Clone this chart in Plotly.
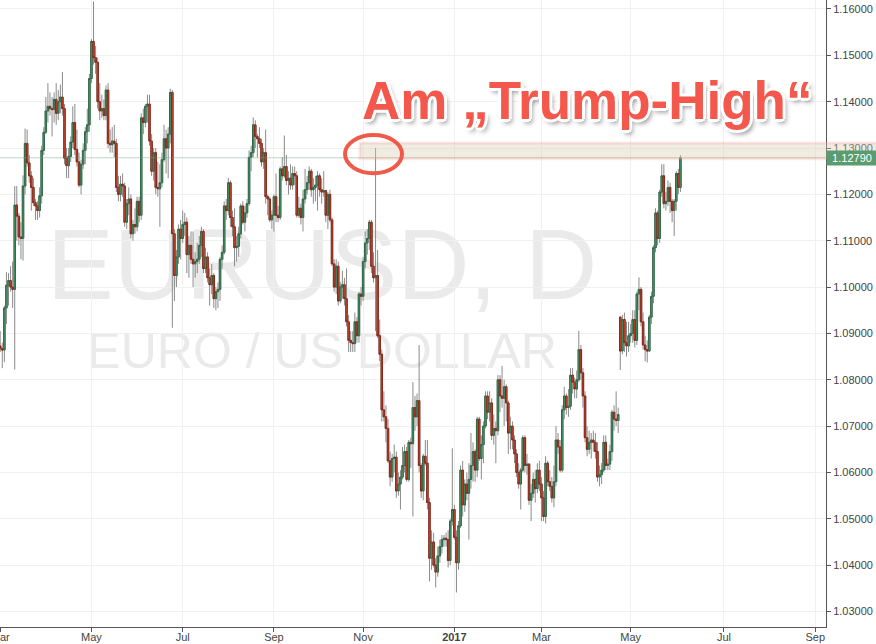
import pandas as pd
import plotly.graph_objects as go

# EURUSD daily candles, values in pips (1 pip = 0.0001); one line = one trading week
open_pips = [
    10873, 10867, 10864, 10955,
    11004, 11014, 11000, 10995, 11177,
    11153, 11108, 11105, 11218, 11310,
    11268, 11240, 11215, 11182, 11175,
    11165, 11197, 11295, 11334, 11380,
    11390, 11385, 11383, 11405, 11375,
    11400, 11410, 11385, 11278, 11262,
    11282, 11313, 11355, 11297, 11270,
    11220, 11265, 11295, 11335, 11350,
    11450, 11530, 11495, 11485, 11400,
    11380, 11385, 11370, 11425, 11310,
    11307, 11315, 11310, 11215, 11200,
    11222, 11218, 11140, 11180, 11190,
    11115, 11135, 11130, 11185, 11155,
    11365, 11355, 11390, 11395, 11315,
    11250, 11290, 11215, 11212, 11225,
    11275, 11320, 11300, 11330, 11420,
    11115, 11025, 11065, 11125, 11105,
    11135, 11140, 11070, 11090, 11060,
    11050, 11055, 11060, 11090, 11120,
    11040, 11065, 11020, 11005, 11025,
    10975, 10990, 10995, 11060, 11075,
    11175, 11165, 11225, 11150, 11130,
    11085, 11088, 11115, 11175, 11140,
    11160, 11180, 11280, 11290, 11350,
    11325, 11320, 11310, 11270, 11290,
    11195, 11190, 11145, 11155, 11195,
    11155, 11150, 11255, 11240, 11260,
    11230, 11235, 11220, 11245, 11240,
    11155, 11170, 11150, 11190, 11210,
    11225, 11250, 11210, 11215, 11220,
    11240, 11210, 11205, 11208, 11155,
    11200, 11145, 11050, 11000, 11045,
    10970, 11000, 11005, 10975, 10925,
    10885, 10880, 10878, 10925, 10895,
    10985, 10980, 11055, 11095, 11105,
    11140, 11045, 11020, 11025, 10895,
    10855, 10735, 10720, 10695, 10625,
    10590, 10630, 10633, 10560, 10575,
    10590, 10615, 10645, 10585, 10665,
    10662, 10740, 10720, 10755, 10615,
    10560, 10635, 10620, 10535, 10415,
    10450, 10400, 10385, 10420, 10440,
    10455, 10458, 10455, 10410, 10495,
    10520, 10460, 10405, 10485, 10605,
    10530, 10575, 10555, 10585, 10615,
    10645, 10605, 10715, 10630, 10660,
    10700, 10765, 10730, 10750, 10680,
    10695, 10690, 10800, 10765, 10760,
    10785, 10750, 10685, 10700, 10670,
    10640, 10600, 10575, 10605, 10675,
    10615, 10618, 10540, 10555, 10585,
    10565, 10605, 10575, 10545, 10505,
    10620, 10580, 10570, 10545, 10580,
    10670, 10655, 10605, 10735, 10765,
    10740, 10743, 10810, 10795, 10780,
    10800, 10865, 10815, 10765, 10675,
    10650, 10665, 10670, 10665, 10645,
    10590, 10595, 10605, 10665, 10615,
    10618, 10645, 10730, 10715, 10712,
    10935, 10862, 10930, 10880, 10873,
    10895, 10900, 10930, 10885, 10985,
    10995, 10925, 10875, 10865, 10862,
    10935, 10980, 11085, 11160, 11105,
    11205, 11240, 11180, 11185, 11215,
    11185, 11165, 11185, 11245, 11215,
]

high_pips = [
    10905, 10880, 10960, 11032,
    11030, 11045, 11055, 11218, 11218,
    11160, 11140, 11241, 11342, 11340,
    11285, 11250, 11235, 11190, 11185,
    11215, 11305, 11345, 11410, 11440,
    11420, 11410, 11420, 11440, 11425,
    11437, 11464, 11395, 11300, 11300,
    11325, 11390, 11395, 11340, 11290,
    11275, 11310, 11345, 11385, 11460,
    11535, 11616, 11520, 11495, 11440,
    11415, 11405, 11435, 11440, 11340,
    11345, 11350, 11320, 11240, 11240,
    11245, 11225, 11190, 11215, 11200,
    11145, 11170, 11195, 11195, 11375,
    11385, 11395, 11415, 11415, 11330,
    11300, 11300, 11270, 11265, 11290,
    11350, 11340, 11345, 11428, 11425,
    11125, 11080, 11135, 11145, 11165,
    11160, 11150, 11110, 11120, 11120,
    11075, 11095, 11110, 11130, 11125,
    11085, 11075, 11040, 11050, 11030,
    11000, 11010, 11065, 11090, 11185,
    11190, 11235, 11230, 11165, 11170,
    11110, 11130, 11180, 11185, 11175,
    11190, 11295, 11305, 11366, 11360,
    11330, 11345, 11320, 11300, 11340,
    11200, 11195, 11165, 11200, 11245,
    11175, 11260, 11280, 11327, 11285,
    11250, 11265, 11260, 11260, 11250,
    11195, 11180, 11210, 11255, 11240,
    11260, 11255, 11235, 11240, 11250,
    11245, 11235, 11250, 11210, 11205,
    11210, 11150, 11060, 11060, 11055,
    11010, 11035, 11020, 11040, 10940,
    10905, 10905, 10945, 10935, 10990,
    11000, 11065, 11120, 11125, 11145,
    11145, 11075, 11300, 11080, 10930,
    10865, 10775, 10745, 10715, 10645,
    10640, 10660, 10645, 10600, 10605,
    10655, 10660, 10655, 10670, 10675,
    10795, 10765, 10770, 10875, 10620,
    10640, 10670, 10670, 10545, 10475,
    10470, 10415, 10440, 10455, 10465,
    10465, 10470, 10475, 10500, 10652,
    10530, 10475, 10495, 10615, 10625,
    10585, 10600, 10620, 10685, 10665,
    10650, 10720, 10720, 10680, 10710,
    10775, 10775, 10775, 10760, 10725,
    10710, 10810, 10810, 10830, 10800,
    10790, 10755, 10720, 10710, 10680,
    10650, 10620, 10610, 10680, 10680,
    10640, 10620, 10575, 10600, 10605,
    10620, 10625, 10590, 10560, 10635,
    10625, 10605, 10590, 10615, 10700,
    10685, 10670, 10745, 10785, 10770,
    10780, 10825, 10825, 10805, 10820,
    10906, 10875, 10825, 10775, 10700,
    10690, 10685, 10690, 10685, 10665,
    10615, 10620, 10680, 10680, 10630,
    10660, 10735, 10745, 10775, 10740,
    10937, 10940, 10945, 10925, 10925,
    10920, 10950, 10950, 10990, 11021,
    11000, 10945, 10895, 10885, 10940,
    10990, 11090, 11170, 11165, 11210,
    11265, 11265, 11205, 11230, 11225,
    11190, 11190, 11250, 11255, 11285,
]

low_pips = [
    10860, 10825, 10838, 10920,
    10960, 10990, 10955, 10822, 11100,
    11090, 11060, 11057, 11200, 11260,
    11225, 11165, 11175, 11145, 11145,
    11150, 11180, 11285, 11330, 11355,
    11370, 11325, 11355, 11350, 11360,
    11375, 11370, 11265, 11235, 11235,
    11270, 11300, 11285, 11260, 11215,
    11200, 11255, 11265, 11310, 11335,
    11440, 11480, 11460, 11385, 11360,
    11365, 11360, 11360, 11300, 11290,
    11290, 11280, 11205, 11185, 11185,
    11195, 11130, 11125, 11155, 11105,
    11100, 11115, 11120, 11140, 11145,
    11330, 11345, 11355, 11305, 11240,
    11230, 11200, 11195, 11130, 11215,
    11270, 11245, 11235, 11310, 10912,
    10970, 11000, 11050, 11060, 11095,
    11110, 11030, 11020, 11050, 11000,
    11020, 11030, 11050, 11065, 11030,
    11030, 11010, 10960, 10985, 10955,
    10950, 10955, 10970, 11040, 11070,
    11145, 11155, 11130, 11110, 11045,
    11055, 11065, 11105, 11135, 11120,
    11150, 11175, 11250, 11280, 11300,
    11280, 11300, 11260, 11255, 11180,
    11155, 11140, 11125, 11120, 11140,
    11140, 11145, 11230, 11235, 11220,
    11200, 11210, 11210, 11220, 11150,
    11150, 11135, 11120, 11180, 11200,
    11210, 11195, 11180, 11185, 11165,
    11195, 11180, 11195, 11140, 11125,
    11140, 11045, 10990, 10985, 10960,
    10965, 10975, 10960, 10915, 10860,
    10860, 10860, 10860, 10880, 10880,
    10960, 10970, 11040, 11070, 11080,
    11030, 11010, 10905, 10890, 10840,
    10710, 10710, 10665, 10620, 10570,
    10580, 10600, 10545, 10550, 10520,
    10585, 10600, 10580, 10580, 10610,
    10505, 10690, 10700, 10600, 10545,
    10540, 10615, 10520, 10365, 10390,
    10395, 10352, 10375, 10405, 10425,
    10440, 10440, 10395, 10400, 10485,
    10455, 10341, 10390, 10480, 10505,
    10515, 10540, 10455, 10565, 10580,
    10580, 10590, 10625, 10585, 10620,
    10695, 10715, 10710, 10670, 10660,
    10620, 10680, 10730, 10740, 10700,
    10710, 10640, 10650, 10650, 10620,
    10590, 10565, 10520, 10600, 10600,
    10595, 10530, 10495, 10545, 10535,
    10555, 10560, 10495, 10495, 10490,
    10570, 10560, 10535, 10525, 10570,
    10640, 10600, 10600, 10715, 10725,
    10720, 10735, 10770, 10760, 10760,
    10795, 10800, 10740, 10665, 10635,
    10640, 10630, 10645, 10630, 10580,
    10570, 10575, 10600, 10605, 10605,
    10605, 10625, 10690, 10700, 10685,
    10821, 10855, 10860, 10850, 10860,
    10880, 10880, 10870, 10875, 10950,
    10915, 10865, 10840, 10837, 10860,
    10920, 10965, 11075, 11090, 11095,
    11195, 11170, 11165, 11175, 11160,
    11140, 11110, 11165, 11200, 11205,
]

close_pips = [
    10867, 10864, 10955, 11004,
    11014, 11000, 10995, 11177, 11153,
    11108, 11105, 11218, 11310, 11268,
    11240, 11215, 11182, 11175, 11165,
    11197, 11295, 11334, 11380, 11390,
    11385, 11383, 11405, 11375, 11400,
    11410, 11385, 11278, 11262, 11282,
    11313, 11355, 11297, 11270, 11220,
    11265, 11295, 11335, 11350, 11450,
    11530, 11495, 11485, 11400, 11380,
    11385, 11370, 11425, 11310, 11307,
    11315, 11310, 11215, 11200, 11222,
    11218, 11140, 11180, 11190, 11115,
    11135, 11130, 11185, 11155, 11365,
    11355, 11390, 11395, 11315, 11250,
    11290, 11215, 11212, 11225, 11275,
    11320, 11300, 11330, 11420, 11115,
    11025, 11065, 11125, 11105, 11135,
    11140, 11070, 11090, 11060, 11050,
    11055, 11060, 11090, 11120, 11040,
    11065, 11020, 11005, 11025, 10975,
    10990, 10995, 11060, 11075, 11175,
    11165, 11225, 11150, 11130, 11085,
    11088, 11115, 11175, 11140, 11160,
    11180, 11280, 11290, 11350, 11325,
    11320, 11310, 11270, 11290, 11195,
    11190, 11145, 11155, 11195, 11155,
    11150, 11255, 11240, 11260, 11230,
    11235, 11220, 11245, 11240, 11155,
    11170, 11150, 11190, 11210, 11225,
    11250, 11210, 11215, 11220, 11240,
    11210, 11205, 11208, 11155, 11200,
    11145, 11050, 11000, 11045, 10970,
    11000, 11005, 10975, 10925, 10885,
    10880, 10878, 10925, 10895, 10985,
    10980, 11055, 11095, 11105, 11140,
    11045, 11020, 11025, 10895, 10855,
    10735, 10720, 10695, 10625, 10590,
    10630, 10633, 10560, 10575, 10590,
    10615, 10645, 10585, 10665, 10662,
    10740, 10720, 10755, 10615, 10560,
    10635, 10620, 10535, 10415, 10450,
    10400, 10385, 10420, 10440, 10455,
    10458, 10455, 10410, 10495, 10520,
    10460, 10405, 10485, 10605, 10530,
    10575, 10555, 10585, 10615, 10645,
    10605, 10715, 10630, 10660, 10700,
    10765, 10730, 10750, 10680, 10695,
    10690, 10800, 10765, 10760, 10785,
    10750, 10685, 10700, 10670, 10640,
    10600, 10575, 10605, 10675, 10615,
    10618, 10540, 10555, 10585, 10565,
    10605, 10575, 10545, 10505, 10620,
    10580, 10570, 10545, 10580, 10670,
    10655, 10605, 10735, 10765, 10740,
    10743, 10810, 10795, 10780, 10800,
    10865, 10815, 10765, 10675, 10650,
    10665, 10670, 10665, 10645, 10590,
    10595, 10605, 10665, 10615, 10618,
    10645, 10730, 10715, 10712, 10725,
    10862, 10930, 10880, 10873, 10895,
    10900, 10930, 10885, 10985, 10995,
    10925, 10875, 10865, 10862, 10935,
    10980, 11085, 11160, 11105, 11205,
    11240, 11180, 11185, 11215, 11185,
    11165, 11185, 11245, 11215, 11279,
]

y_ticks = [1.03, 1.04, 1.05, 1.06, 1.07, 1.08, 1.09, 1.10,
           1.11, 1.12, 1.13, 1.14, 1.15, 1.16]
title_text = "Am \u201eTrump-High\u201c"
last_price_text = "1.12790"
last_price = 1.1279

n = min(len(open_pips), len(high_pips), len(low_pips), len(close_pips))
o = [v / 10000 for v in open_pips[:n]]
h = [v / 10000 for v in high_pips[:n]]
l = [v / 10000 for v in low_pips[:n]]
c = [v / 10000 for v in close_pips[:n]]

dates = pd.bdate_range("2016-03-01", periods=n)
axis_days = pd.bdate_range("2016-03-01", "2017-09-30")
x = list(range(n))
labels = [d.strftime("%Y-%m-%d") for d in dates]

tick_vals, tick_text = [], []
prev = None
for k, d in enumerate(axis_days):
    if d.month != prev:
        prev = d.month
        if d.month % 2 == 1:
            tick_vals.append(k)
            tick_text.append("<b>%d</b>" % d.year if d.month == 1 else d.strftime("%b"))

body_hi = [max(a, b) for a, b in zip(o, c)]
body_lo = [min(a, b) for a, b in zip(o, c)]

fig = go.Figure()
# wicks (grey)
fig.add_trace(go.Candlestick(
    x=x, open=o, high=h, low=l, close=c, text=labels, hoverinfo="skip",
    increasing=dict(line=dict(color="#8a8a8a", width=1), fillcolor="#8a8a8a"),
    decreasing=dict(line=dict(color="#8a8a8a", width=1), fillcolor="#8a8a8a"),
    showlegend=False))
# bodies
fig.add_trace(go.Candlestick(
    x=x, open=o, high=body_hi, low=body_lo, close=c, text=labels,
    increasing=dict(line=dict(color="#2f6a48", width=1), fillcolor="#55a374"),
    decreasing=dict(line=dict(color="#8a2616", width=1), fillcolor="#e0503a"),
    showlegend=False))

x_start, x_end = -0.1, 398.2
y_lo, y_hi = 1.02665, 1.16194

shapes = [
    # watermark holders (drawn below the candles)
    dict(type="rect", xref="paper", yref="paper", x0=0.02, x1=0.76, y0=0.514, y1=0.674,
         line=dict(width=0), fillcolor="rgba(0,0,0,0)", layer="below",
         label=dict(text="EURUSD, D", textposition="middle center",
                    font=dict(family="Liberation Sans, Arial", size=100, color="#eaeaea"))),
    dict(type="rect", xref="paper", yref="paper", x0=0.05, x1=0.73, y0=0.408, y1=0.488,
         line=dict(width=0), fillcolor="rgba(0,0,0,0)", layer="below",
         label=dict(text="EURO / US DOLLAR", textposition="middle center",
                    font=dict(family="Liberation Sans, Arial", size=50, color="#eaeaea"))),
    # last price line
    dict(type="line", xref="paper", yref="y", x0=0, x1=1, y0=last_price, y1=last_price,
         line=dict(color="rgba(110,160,125,0.45)", width=1)),
    # highlighted band at the Trump high
    dict(type="rect", xref="paper", yref="y", x0=0.4358, x1=1.07, y0=1.12771, y1=1.13106,
         fillcolor="rgba(215,205,175,0.38)",
         line=dict(color="rgba(240,140,130,0.2)", width=3)),
    # red ellipse
    dict(type="circle", xref="paper", yref="y", x0=0.4177, x1=0.4867, y0=1.12458, y1=1.13279,
         line=dict(color="#f05a4b", width=4)),
]

annotations = [
    dict(text=title_text, xref="paper", yref="paper", x=0.7107, y=0.8405,
         xanchor="center", yanchor="middle", showarrow=False,
         font=dict(family="Liberation Sans, Arial", size=53, color="#f4574b", weight="bold",
                   shadow=("3px 0 0 #fff, -3px 0 0 #fff, 0 3px 0 #fff, 0 -3px 0 #fff, "
                           "2px 2px 0 #fff, -2px -2px 0 #fff, 2px -2px 0 #fff, -2px 2px 0 #fff, "
                           "3px 4px 5px rgba(0,0,0,0.45)"))),
    dict(text=last_price_text, xref="paper", yref="y", x=1.0, y=last_price,
         xanchor="left", yanchor="middle", showarrow=False, width=48, borderpad=1,
         bgcolor="#5a9b6f", font=dict(family="Liberation Sans, Arial", size=11, color="#ffffff")),
]

fig.update_layout(
    width=876, height=644,
    margin=dict(l=0, r=50, t=0, b=17),
    paper_bgcolor="#ffffff", plot_bgcolor="#ffffff",
    showlegend=False, boxgap=0,
    shapes=shapes, annotations=annotations,
    xaxis=dict(range=[x_start, x_end], tickmode="array", tickvals=tick_vals, ticktext=tick_text,
               showgrid=True, gridcolor="#f0f0f0", gridwidth=1, zeroline=False,
               showline=True, linecolor="#555555", linewidth=1,
               ticks="outside", ticklen=4, tickcolor="#555555", ticklabelstandoff=-4,
               ticklabeloverflow="allow",
               tickfont=dict(family="Liberation Sans, Arial", size=11, color="#444444"),
               rangeslider=dict(visible=False), automargin=False, fixedrange=True),
    yaxis=dict(range=[y_lo, y_hi], side="right", tickmode="array", tickvals=y_ticks,
               tickformat=".5f",
               showgrid=True, gridcolor="#f0f0f0", gridwidth=1, zeroline=False,
               showline=True, linecolor="#555555", linewidth=1,
               ticks="outside", ticklen=4, tickcolor="#555555",
               tickfont=dict(family="Liberation Sans, Arial", size=11, color="#444444"),
               automargin=False),
)

fig.write_html("out.html", config={"displayModeBar": False},
               post_script="document.body.style.margin='0px';")
